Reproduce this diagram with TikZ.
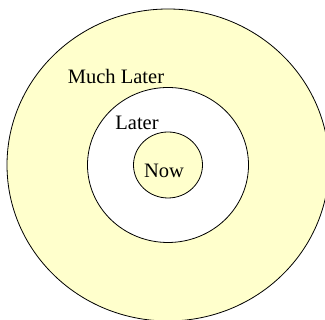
\documentclass[tikz,border=0pt]{standalone}
\usepackage{fontspec}
\setmainfont{Liberation Serif}
\usepackage{tikz}
\usetikzlibrary{positioning,shapes.geometric}
\definecolor{ringyellow}{RGB}{255,255,204}
\tikzset{
  ring/.style  = {ellipse, draw=black, line width=0.8pt, inner sep=0pt},
  label/.style = {font=\fontsize{20.5}{24}\selectfont, inner sep=0pt},
}
\begin{document}
\begin{tikzpicture}[x=1pt, y=1pt]
  \useasboundingbox (0,0) rectangle (325,320);

  % time horizons, outer to inner
  \node[ring, fill=ringyellow, minimum width=322pt, minimum height=312pt] (muchlater) at (168,155) {};
  \node[ring, fill=white, minimum width=161pt, minimum height=155pt] (later) at (168,155) {};
  \node[ring, fill=ringyellow, minimum width=69pt, minimum height=66pt] (now) at (168,155) {};

  \node[label] (muchlatertext) at (116,244) {Much Later};
  \node[label] (latertext) at (137,197) {Later};
  \node[label] (nowtext) at (164,149) {Now};
\end{tikzpicture}
\end{document}
